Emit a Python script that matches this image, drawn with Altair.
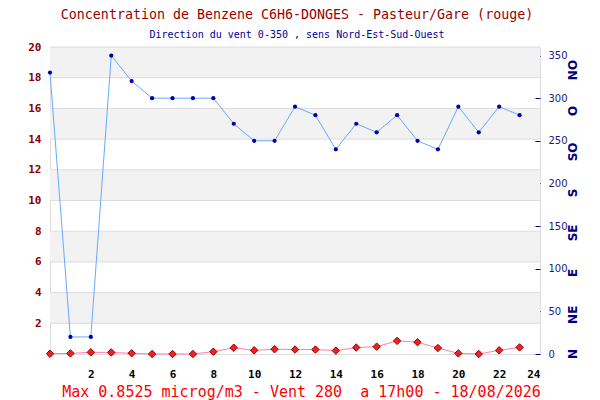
import altair as alt
import pandas as pd

# ---- data ----
hours = list(range(24))
benzene = [0.02, 0.04, 0.11, 0.10, 0.05, 0.0, 0.0, 0.0, 0.15, 0.41, 0.24, 0.31,
           0.29, 0.29, 0.22, 0.42, 0.48, 0.8525, 0.77, 0.39, 0.04, 0.0, 0.24, 0.43]
wind = [330, 20, 20, 350, 320, 300, 300, 300, 300, 270, 250, 250,
        290, 280, 240, 270, 260, 280, 250, 240, 290, 260, 290, 280]

band_low = [2, 6, 10, 14, 18]
band_high = [4, 8, 12, 16, 20]
left_ticks = [2, 4, 6, 8, 10, 12, 14, 16, 18, 20]
right_ticks = [0, 50, 100, 150, 200, 250, 300, 350]
x_ticks = [2, 4, 6, 8, 10, 12, 14, 16, 18, 20, 22, 24]
dir_labels = ["N", "NE", "E", "SE", "S", "SO", "O", "NO"]
dir_values = [0, 46, 95, 142, 189, 237, 285, 333]

title_text = "Concentration de Benzene C6H6-DONGES - Pasteur/Gare (rouge)"
subtitle_text = "Direction du vent 0-350 , sens Nord-Est-Sud-Ouest"
footer_text = "Max 0.8525 microg/m3 - Vent 280\u00a0 a 17h00 - 18/08/2026"

df = pd.DataFrame({"hour": hours, "benzene": benzene, "wind": wind})
bands = pd.DataFrame({"benzene": band_low, "hi": band_high})
grid = pd.DataFrame({"benzene": left_ticks})
dirs = pd.DataFrame({"wind": dir_values, "label": dir_labels})

MONO = "DejaVu Sans Mono"

x_axis = alt.Axis(values=x_ticks, grid=False, ticks=False, domain=False,
                  labelFont=MONO, labelFontWeight="bold", labelFontSize=11,
                  labelColor="#000000", labelPadding=14,
                  title=footer_text, titleFont=MONO, titleFontSize=15,
                  titleFontWeight="normal", titleColor="#ff0000",
                  titleX=251, titleY=42.5, titleBaseline="alphabetic",
                  titleAlign="center")
X = alt.X("hour:Q", scale=alt.Scale(domain=[0, 24], nice=False, zero=False),
          axis=x_axis)

left_scale = alt.Scale(domain=[0, 20], nice=False)
left_axis = alt.Axis(values=left_ticks, grid=False, ticks=False, domain=False,
                     labelFont=MONO, labelFontWeight="bold", labelFontSize=11,
                     labelColor="#880000", labelPadding=9, title=None,
                     orient="left")
YL = alt.Y("benzene:Q", scale=left_scale, axis=left_axis)

right_scale = alt.Scale(domain=[0, 360], nice=False)
right_axis = alt.Axis(values=right_ticks, grid=False, ticks=True, tickSize=5,
                      tickColor="#000080", domain=False, offset=-5,
                      labelFont="DejaVu Sans", labelFontSize=10,
                      labelColor="#1a1a80", labelPadding=8, title=None,
                      orient="right")
YR = alt.Y("wind:Q", scale=right_scale, axis=right_axis)

band_layer = alt.Chart(bands).mark_rect(color="#f2f2f2").encode(
    y=YL, y2="hi:Q")
grid_layer = alt.Chart(grid).mark_rule(color="#dcdcdc", strokeWidth=1).encode(y=YL)
benz_line = alt.Chart(df).mark_line(color="#ff7fb0", strokeWidth=1).encode(x=X, y=YL)
benz_pts = alt.Chart(df).mark_point(shape="diamond", filled=True, size=55,
                                    fill="#ee2222", stroke="#990000",
                                    strokeWidth=1, opacity=1).encode(x=X, y=YL)
left_layer = alt.layer(band_layer, grid_layer, benz_line, benz_pts)

wind_line = alt.Chart(df).mark_line(color="#66aaff", strokeWidth=1).encode(x=X, y=YR)
wind_pts = alt.Chart(df).mark_circle(color="#0000aa", size=18, opacity=1).encode(x=X, y=YR)
dir_text = alt.Chart(dirs).mark_text(angle=270, align="center", baseline="middle",
                                     font="DejaVu Sans", fontWeight="bold",
                                     fontSize=12, color="#000080").encode(
    y=YR, x=alt.value(523), text="label:N")
right_layer = alt.layer(wind_line, wind_pts, dir_text)

chart = alt.layer(left_layer, right_layer).resolve_scale(y="independent").properties(
    width=490, height=307,
    autosize=alt.AutoSizeParams(type="none"),
    padding={"left": 42, "top": 39, "right": 52, "bottom": 46},
    title=alt.TitleParams(text=title_text, subtitle=subtitle_text,
                          anchor="middle", dx=2, offset=1,
                          font=MONO, fontSize=13.3, fontWeight="normal",
                          color="#990000",
                          subtitleFont=MONO, subtitleFontSize=10,
                          subtitleColor="#000099", subtitlePadding=9),
).configure_view(stroke="#d4d4d4", fill="#ffffff").configure(background="#ffffff")

chart.save("out.html", embed_options={"renderer": "svg", "actions": False})
